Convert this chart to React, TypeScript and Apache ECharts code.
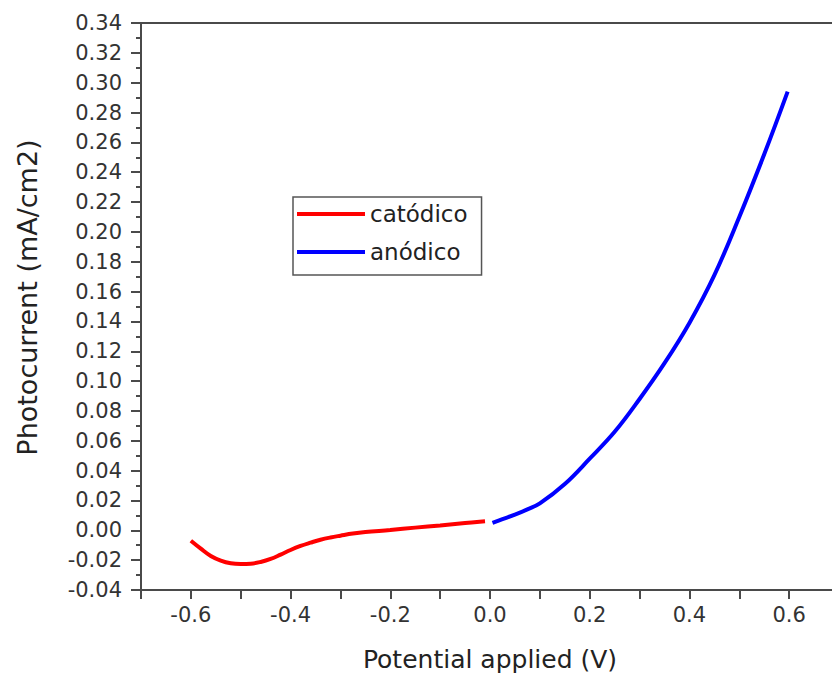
import React, { useEffect, useRef } from "react";
import * as echarts from "echarts";

const cathodicX = [-0.6, -0.58, -0.56, -0.54, -0.52, -0.5, -0.48, -0.46, -0.44, -0.42, -0.4, -0.38, -0.36, -0.34, -0.32, -0.3, -0.275, -0.25, -0.2, -0.15, -0.1, -0.05, -0.01];
const cathodicY = [-0.007, -0.0123, -0.0172, -0.0203, -0.0221, -0.0226, -0.0224, -0.0212, -0.0192, -0.0163, -0.0132, -0.0105, -0.0083, -0.0063, -0.0048, -0.0036, -0.0022, -0.0012, 0.0002, 0.0018, 0.0033, 0.0049, 0.006];

const anodicX = [0.005, 0.025, 0.05, 0.075, 0.1, 0.15, 0.2, 0.25, 0.3, 0.35, 0.4, 0.45, 0.5, 0.55, 0.597];
const anodicY = [0.005, 0.0075, 0.0105, 0.014, 0.018, 0.031, 0.048, 0.066, 0.088, 0.112, 0.139, 0.171, 0.21, 0.252, 0.294];

const seriesNames = ["catódico", "anódico"];
const xTitle = "Potential applied (V)";
const yTitle = "Photocurrent (mA/cm2)";

const FONT = "DejaVu Sans";
const AXIS_COLOR = "#4a4a4a";

export default function App() {
  const ref = useRef<HTMLDivElement>(null);
  useEffect(() => {
    if (!ref.current) return;
    const chart = echarts.init(ref.current, undefined, { renderer: "svg" });
    const pairs = (xs: number[], ys: number[]) => xs.map((x, i) => [x, ys[i]]);
    chart.setOption({
      animation: false,
      backgroundColor: "#ffffff",
      grid: { left: 141, top: 23, bottom: 87, right: 0, containLabel: false },
      legend: {
        left: 293,
        top: 197,
        orient: "vertical",
        icon: "rect",
        itemWidth: 68,
        itemHeight: 4,
        itemGap: 10,
        padding: [3, 14, 9, 4],
        borderColor: "#555555",
        borderWidth: 1.5,
        data: seriesNames,
        textStyle: { fontFamily: FONT, fontSize: 23, color: "#222", lineHeight: 28 },
      },
      xAxis: [
        {
          type: "value",
          min: -0.7,
          max: 0.7,
          interval: 0.1,
          position: "bottom",
          name: xTitle,
          nameLocation: "middle",
          nameGap: 57,
          nameTextStyle: { fontFamily: FONT, fontSize: 25, color: "#222" },
          axisLine: { show: true, onZero: false, lineStyle: { color: AXIS_COLOR, width: 2 } },
          axisTick: { show: true, inside: false, length: 9, lineStyle: { color: AXIS_COLOR, width: 2 } },
          axisLabel: {
            margin: 14,
            fontFamily: FONT,
            fontSize: 21,
            color: "#333",
            showMinLabel: true,
            showMaxLabel: true,
            formatter: (v: number) => {
              const k = Math.round(v * 10);
              return k % 2 === 0 ? (k / 10).toFixed(1) : "";
            },
          },
          splitLine: { show: false },
        },
        {
          type: "value",
          min: -0.7,
          max: 0.7,
          position: "top",
          axisLine: { show: true, onZero: false, lineStyle: { color: AXIS_COLOR, width: 2 } },
          axisTick: { show: false },
          axisLabel: { show: false },
          splitLine: { show: false },
        },
      ],
      yAxis: {
        type: "value",
        min: -0.04,
        max: 0.34,
        interval: 0.02,
        name: yTitle,
        nameLocation: "middle",
        nameGap: 100,
        nameTextStyle: { fontFamily: FONT, fontSize: 27, color: "#222", padding: [0, 0, 0, 18] },
        axisLine: { show: true, onZero: false, lineStyle: { color: AXIS_COLOR, width: 2 } },
        axisTick: { show: true, inside: false, length: 10, lineStyle: { color: AXIS_COLOR, width: 2 } },
        minorTick: { show: true, splitNumber: 2, length: 5, lineStyle: { color: AXIS_COLOR, width: 2 } },
        axisLabel: {
          margin: 19,
          fontFamily: FONT,
          fontSize: 21,
          color: "#333",
          formatter: (v: number) => v.toFixed(2),
        },
        splitLine: { show: false },
        minorSplitLine: { show: false },
      },
      series: [
        {
          name: seriesNames[0],
          type: "line",
          data: pairs(cathodicX, cathodicY),
          showSymbol: false,
          smooth: 0.4,
          lineStyle: { color: "#ff0000", width: 4 },
          itemStyle: { color: "#ff0000" },
        },
        {
          name: seriesNames[1],
          type: "line",
          data: pairs(anodicX, anodicY),
          showSymbol: false,
          smooth: 0.4,
          lineStyle: { color: "#0000ff", width: 4 },
          itemStyle: { color: "#0000ff" },
        },
      ],
    });
    return () => chart.dispose();
  }, []);
  return (
    <div style={{ position: "absolute", left: 0, top: 0, width: 832, height: 677, overflow: "hidden" }}>
      <div ref={ref} style={{ width: 842, height: 677 }} />
    </div>
  );
}
